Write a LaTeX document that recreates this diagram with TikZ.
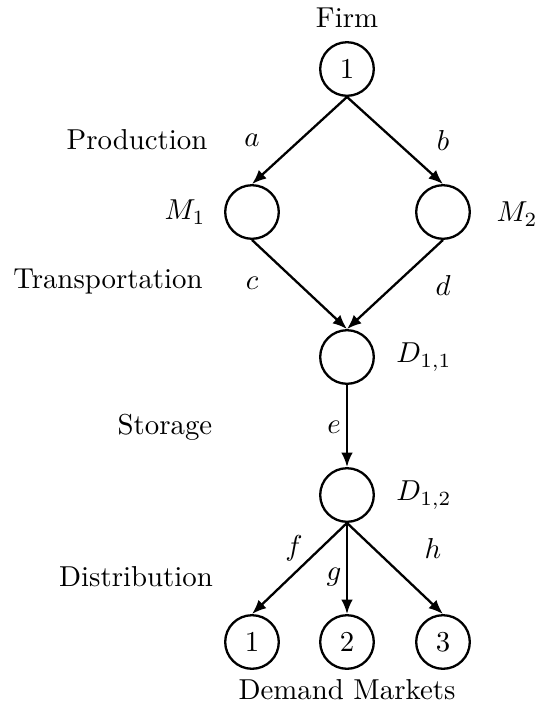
\documentclass[tikz,border=0pt]{standalone}
\usetikzlibrary{arrows.meta}
\begin{document}
\begin{tikzpicture}[x=0.347pt,y=-0.347pt,
  nd/.style={circle,draw,line width=0.8pt,minimum size=18.6pt,inner sep=0pt},
  lbl/.style={inner sep=0pt},
  arr/.style={line width=0.8pt,-{Latex[length=5pt,width=4pt]}}]
\useasboundingbox (0,0) rectangle (539,706);
\node[nd] (n1) at (347,69) {1};
\node[nd] (m1) at (252,212) {};
\node[nd] (m2) at (443,212) {};
\node[nd] (d11) at (347,357) {};
\node[nd] (d12) at (347,495) {};
\node[nd] (k1) at (252,642) {1};
\node[nd] (k2) at (347,642) {2};
\node[nd] (k3) at (443,642) {3};
\node[lbl] (firm) at (347,18) {Firm};
\node[lbl] (dm) at (347,690) {Demand Markets};
\node[lbl] (prod) at (137,140) {Production};
\node[lbl] (trans) at (108,282) {Transportation};
\node[lbl] (stor) at (165,427) {Storage};
\node[lbl] (dist) at (136,577) {Distribution};
\node[lbl] (lm1) at (185,212) {$M_1$};
\node[lbl] (lm2) at (517,214) {$M_2$};
\node[lbl] (ld11) at (424,357) {$D_{1,1}$};
\node[lbl] (ld12) at (424,495) {$D_{1,2}$};
\node[lbl] (la) at (252,140) {$a$};
\node[lbl] (lb) at (443,140) {$b$};
\node[lbl] (lc) at (252,283) {$c$};
\node[lbl] (ld) at (443,285) {$d$};
\node[lbl] (le) at (334,427) {$e$};
\node[lbl] (lf) at (294,548) {$f$};
\node[lbl] (lg) at (334,577) {$g$};
\node[lbl] (lh) at (433,548) {$h$};
\draw[arr] (n1.south) -- (m1.north);
\draw[arr] (n1.south) -- (m2.north);
\draw[arr] (m1.south) -- (d11.north);
\draw[arr] (m2.south) -- (d11.north);
\draw[arr] (d11.south) -- (d12.north);
\draw[arr] (d12.south) -- (k1.north);
\draw[arr] (d12.south) -- (k2.north);
\draw[arr] (d12.south) -- (k3.north);
\end{tikzpicture}
\end{document}
